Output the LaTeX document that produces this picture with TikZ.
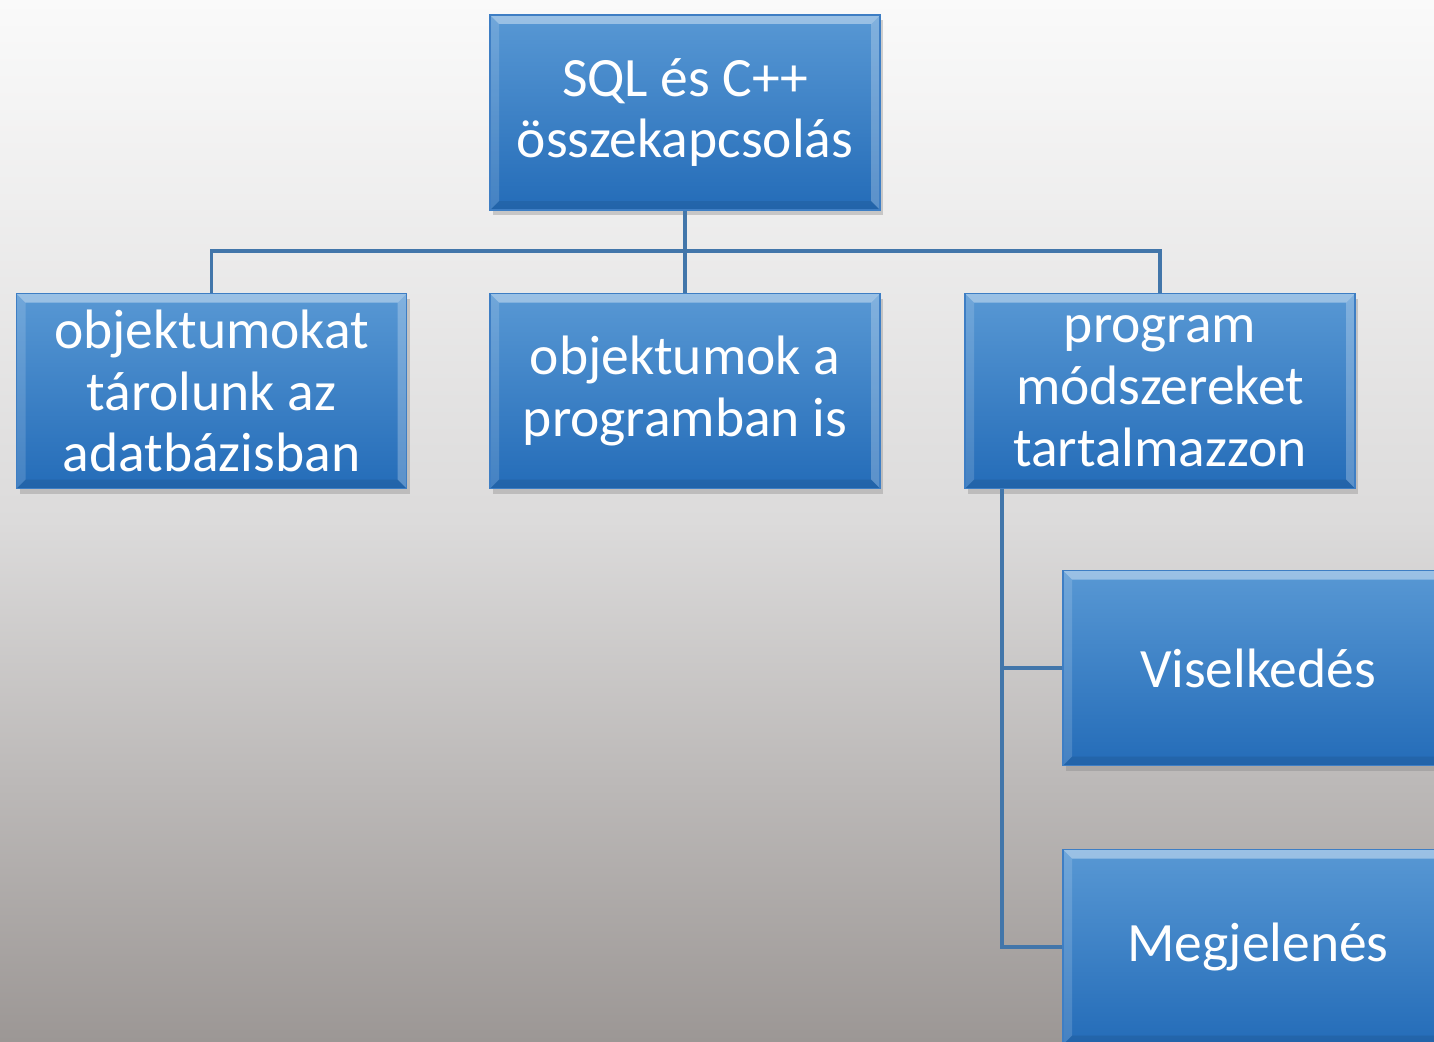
\documentclass[tikz,border=0pt]{standalone}
\usepackage{fontspec}
\newfontfamily\carlito{Carlito}
\usetikzlibrary{shadows}

\definecolor{hatterfent}{RGB}{250,250,250}
\definecolor{hatterkozep}{RGB}{220,219,219}
\definecolor{hatterlent}{RGB}{156,151,149}
\definecolor{dobozfent}{RGB}{88,152,212}
\definecolor{dobozlent}{RGB}{36,108,184}
\definecolor{dobozel}{RGB}{62,126,196}
\definecolor{vonalszin}{RGB}{66,118,170}

\tikzset{
  doboz/.style={rectangle, minimum width=3.9cm, minimum height=1.95cm,
    inner sep=0pt, text width=3.75cm, align=flush center, text=white,
    font=\carlito\fontsize{15.8}{17.6}\selectfont,
    top color=dobozfent, bottom color=dobozlent, draw=dobozel, line width=0.4pt,
    drop shadow={shadow xshift=0.03cm, shadow yshift=-0.05cm, opacity=0.35},
    path picture={
      % fazetta
      \fill[white,opacity=0.4] (path picture bounding box.north west) -- (path picture bounding box.north east)
        -- ([shift={(-0.09,-0.09)}]path picture bounding box.north east) -- ([shift={(0.09,-0.09)}]path picture bounding box.north west) -- cycle;
      \fill[white,opacity=0.15] (path picture bounding box.north west) -- ([shift={(0.09,-0.09)}]path picture bounding box.north west)
        -- ([shift={(0.09,0.09)}]path picture bounding box.south west) -- (path picture bounding box.south west) -- cycle;
      \fill[white,opacity=0.25] (path picture bounding box.north east) -- ([shift={(-0.09,-0.09)}]path picture bounding box.north east)
        -- ([shift={(-0.09,0.09)}]path picture bounding box.south east) -- (path picture bounding box.south east) -- cycle;
      \fill[black,opacity=0.08] (path picture bounding box.south west) -- ([shift={(0.09,0.09)}]path picture bounding box.south west)
        -- ([shift={(-0.09,0.09)}]path picture bounding box.south east) -- (path picture bounding box.south east) -- cycle;
    }},
  vonal/.style={draw=vonalszin, line width=1.1pt}
}

\begin{document}
\begin{tikzpicture}
\useasboundingbox (0,0) rectangle (14.34,10.41);
\clip (0,0) rectangle (14.34,10.41);
\shade[top color=hatterfent, bottom color=hatterlent, middle color=hatterkozep] (0,0) rectangle (14.34,10.41);

% dobozok
\node[doboz] (fo) at (6.85,9.285) {SQL és C++ összekapcsolás};
\node[doboz] (bal) at (2.115,6.50) {objektumokat tárolunk az adatbázisban};
\node[doboz] (kozep) at (6.85,6.50) {objektumok a programban is};
\node[doboz] (jobb) at (11.60,6.50) {program módszereket tartalmazzon};
\node[doboz] (visel) at (12.58,3.73) {Viselkedés};
\node[doboz] (megj) at (12.58,0.94) {Megjelenés};

% vonalak
\coordinate (busz) at (6.85,7.90);
\coordinate (tor) at ([xshift=0.38cm]jobb.south west);
\draw[vonal] (fo.south) -- (kozep.north);
\draw[vonal] (bal.north) |- (busz) -| (jobb.north);
\draw[vonal] (tor) |- (visel.west);
\draw[vonal] (tor) |- (megj.west);
\end{tikzpicture}
\end{document}
